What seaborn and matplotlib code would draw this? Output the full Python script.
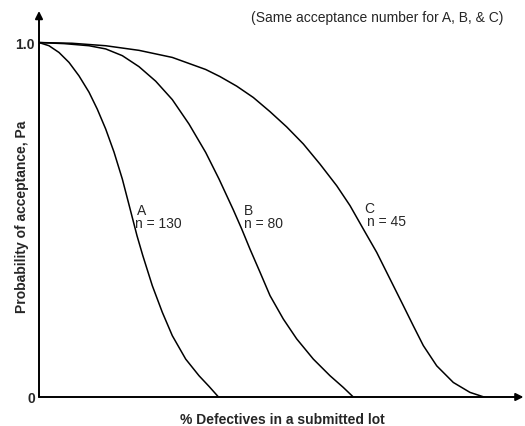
import matplotlib
matplotlib.use("Agg")
import matplotlib.pyplot as plt
import seaborn as sns
import pandas as pd

# OC curves (x: % defective on an arbitrary 0-10 scale, y: Pa)
a_x = [0, 0.207, 0.414, 0.621, 0.828, 1.035, 1.207, 1.381, 1.553, 1.725,
       1.868, 2.029, 2.149, 2.346, 2.553, 2.760, 3.037, 3.313, 3.520, 3.716]
a_y = [1.0, 0.991, 0.972, 0.944, 0.906, 0.860, 0.812, 0.756, 0.691, 0.615,
       0.540, 0.455, 0.399, 0.314, 0.239, 0.173, 0.107, 0.060, 0.030, 0.0]

b_x = [0, 0.518, 1.035, 1.381, 1.725, 2.070, 2.416, 2.760, 3.106, 3.451, 3.727,
       4.023, 4.197, 4.369, 4.576, 4.783, 5.058, 5.335, 5.679, 6.025, 6.300, 6.507]
b_y = [1.0, 0.997, 0.991, 0.982, 0.963, 0.932, 0.891, 0.839, 0.770, 0.690, 0.615,
       0.528, 0.474, 0.417, 0.352, 0.286, 0.220, 0.164, 0.107, 0.060, 0.027, 0.0]

c_x = [0, 0.683, 1.381, 2.070, 2.760, 3.451, 3.747, 4.093, 4.437, 4.783, 5.128, 5.472,
       5.818, 6.164, 6.439, 6.714, 6.992, 7.267, 7.542, 7.749, 7.957, 8.234, 8.578, 8.923, 9.213]
c_y = [1.0, 0.998, 0.991, 0.978, 0.958, 0.924, 0.904, 0.877, 0.845, 0.805, 0.762, 0.714,
       0.657, 0.596, 0.540, 0.474, 0.408, 0.333, 0.258, 0.201, 0.145, 0.088, 0.041, 0.013, 0.0]

plans = ["A", "B", "C"]
sample_sizes = [130, 80, 45]

sns.set_theme(style="white")
plt.rcParams["font.family"] = ["Liberation Sans", "DejaVu Sans"]

fig = plt.figure(figsize=(5.25, 4.27), dpi=100)
ax = fig.add_axes([39 / 525, 1 - 398 / 427, 483 / 525, 386 / 427])

curves = pd.concat([
    pd.DataFrame({"x": a_x, "y": a_y, "plan": "A"}),
    pd.DataFrame({"x": b_x, "y": b_y, "plan": "B"}),
    pd.DataFrame({"x": c_x, "y": c_y, "plan": "C"}),
])
for p in plans:
    d = curves[curves["plan"] == p]
    sns.lineplot(data=d, x="x", y="y", ax=ax, color="black", lw=1.1, sort=False,
                 solid_joinstyle="round")

ax.set_xlim(0, 10.0)
ax.set_ylim(0, 1.089)

# curve labels
label_pos = [(2.03, 0.528, 1.99, 0.492), (4.24, 0.528, 4.24, 0.492), (6.73, 0.534, 6.79, 0.497)]
for p, n, (lx, ly, nx, ny) in zip(plans, sample_sizes, label_pos):
    ax.text(lx, ly, p, fontsize=10, ha="left", va="center")
    ax.text(nx, ny, f"n = {n}", fontsize=10, ha="left", va="center")

# axes drawn as arrows
for s in ax.spines.values():
    s.set_visible(False)
arrow = dict(arrowstyle="-|>", color="black", lw=1.4, mutation_scale=11, shrinkA=0, shrinkB=0)
ax.annotate("", xy=(0, 1), xytext=(0, 0), xycoords="axes fraction", arrowprops=arrow)
ax.annotate("", xy=(1.003, 0), xytext=(0, 0), xycoords="axes fraction", arrowprops=arrow)

ax.set_xticks([])
ax.set_yticks([0, 1.0])
ax.set_yticklabels(["0", "1.0"], fontsize=10, fontweight="bold")
ax.tick_params(axis="y", length=0, pad=3)

ax.set_xlabel("% Defectives in a submitted lot", fontsize=10, fontweight="bold")
ax.set_ylabel("Probability of acceptance, Pa", fontsize=10, fontweight="bold")
ax.xaxis.label.set_va("center")
ax.yaxis.label.set_va("center")
ax.xaxis.set_label_coords(0.503, -0.057)
ax.yaxis.set_label_coords(-0.035, 0.469)

fig.text(503 / 525, 1 - 18 / 427, "(Same acceptance number for A, B, & C)",
         fontsize=10, ha="right", va="center")

fig.savefig("out.png", dpi=100)
